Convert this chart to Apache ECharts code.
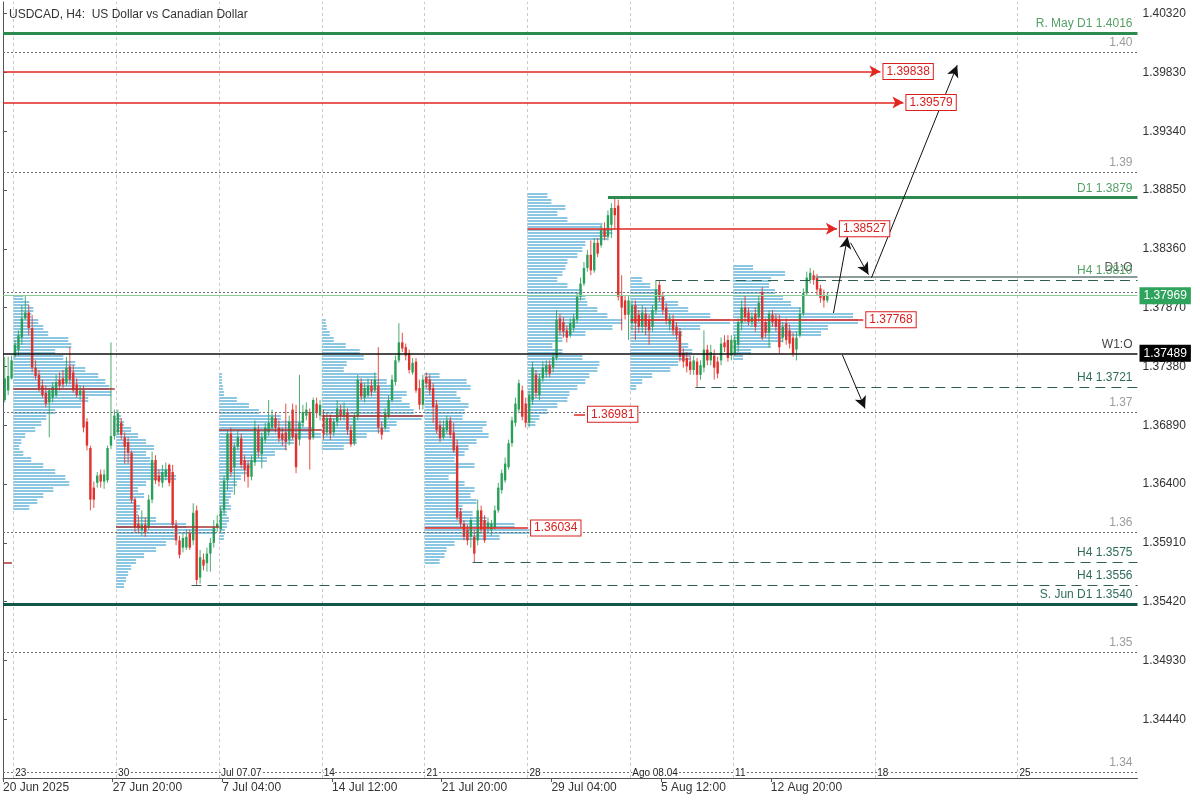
<!DOCTYPE html>
<html><head><meta charset="utf-8">
<script src="https://cdn.jsdelivr.net/npm/echarts@6/dist/echarts.min.js"></script>
<style>html,body{margin:0;padding:0;background:#fff}#c{width:1200px;height:800px}</style>
</head><body><div id="c"></div>
<script>
// ---------- DATA ----------
// H4 candles [open, close, low, high]
const wkJun20 = [
[1.3710,1.3728,1.3708,1.3746],[1.3718,1.3730,1.3714,1.3746],[1.3728,1.3743,1.3727,1.3747]];
const wkJun23 = [
[1.3747,1.3756,1.3745,1.3760],[1.3752,1.3764,1.3747,1.3768],[1.3762,1.3778,1.3756,1.3789],[1.3778,1.3783,1.3777,1.3797],
[1.3783,1.3770,1.3764,1.3789],[1.3770,1.3737,1.3733,1.3781],[1.3737,1.3730,1.3727,1.3743],[1.3731,1.3720,1.3717,1.3735],
[1.3722,1.3714,1.3712,1.3727],[1.3716,1.3707,1.3704,1.3722],[1.3708,1.3718,1.3679,1.3720],[1.3712,1.3721,1.3708,1.3725],
[1.3714,1.3725,1.3712,1.3731],[1.3727,1.3722,1.3718,1.3733],[1.3728,1.3723,1.3720,1.3735],[1.3724,1.3737,1.3722,1.3746],
[1.3738,1.3727,1.3723,1.3754],[1.3733,1.3718,1.3716,1.3739],[1.3723,1.3714,1.3712,1.3728],[1.3714,1.3718,1.3710,1.3722],
[1.3718,1.3687,1.3683,1.3722],[1.3692,1.3672,1.3668,1.3695],[1.3670,1.3627,1.3618,1.3672],[1.3637,1.3627,1.3620,1.3642],
[1.3641,1.3647,1.3637,1.3650],[1.3648,1.3642,1.3637,1.3652],[1.3642,1.3648,1.3636,1.3652],[1.3643,1.3670,1.3641,1.3672],
[1.3672,1.3680,1.3669,1.3758],[1.3680,1.3697,1.3677,1.3702]];
const wkJun30 = [
[1.3683,1.3699,1.3681,1.3702],[1.3691,1.3681,1.3677,1.3695],[1.3679,1.3671,1.3657,1.3683],[1.3675,1.3666,1.3657,1.3679],
[1.3666,1.3627,1.3624,1.3668],[1.3627,1.3604,1.3600,1.3629],[1.3607,1.3603,1.3599,1.3614],[1.3602,1.3606,1.3597,1.3618],
[1.3606,1.3600,1.3596,1.3612],[1.3604,1.3627,1.3602,1.3631],[1.3627,1.3660,1.3624,1.3667],[1.3660,1.3643,1.3640,1.3664],
[1.3647,1.3642,1.3638,1.3652],[1.3641,1.3650,1.3637,1.3656],[1.3646,1.3652,1.3643,1.3658],[1.3656,1.3641,1.3638,1.3657],
[1.3650,1.3606,1.3603,1.3656],[1.3606,1.3593,1.3589,1.3610],[1.3593,1.3581,1.3578,1.3597],[1.3587,1.3595,1.3583,1.3599],
[1.3587,1.3596,1.3585,1.3602],[1.3599,1.3587,1.3585,1.3602],[1.3593,1.3616,1.3589,1.3624],[1.3618,1.3560,1.3556,1.3622],
[1.3562,1.3579,1.3557,1.3585],[1.3577,1.3572,1.3568,1.3582],[1.3574,1.3582,1.3567,1.3587],[1.3582,1.3591,1.3567,1.3595],
[1.3591,1.3604,1.3587,1.3610],[1.3604,1.3607,1.3600,1.3614]];
const wkJul07 = [
[1.3602,1.3618,1.3600,1.3622],[1.3618,1.3643,1.3614,1.3647],[1.3643,1.3682,1.3635,1.3685],[1.3682,1.3650,1.3646,1.3687],
[1.3654,1.3671,1.3631,1.3674],[1.3671,1.3679,1.3668,1.3685],[1.3678,1.3656,1.3653,1.3682],[1.3660,1.3652,1.3642,1.3664],
[1.3656,1.3646,1.3637,1.3660],[1.3646,1.3660,1.3643,1.3664],[1.3658,1.3687,1.3655,1.3693],[1.3685,1.3667,1.3662,1.3689],
[1.3665,1.3679,1.3653,1.3683],[1.3677,1.3687,1.3674,1.3691],[1.3683,1.3691,1.3680,1.3710],[1.3687,1.3696,1.3685,1.3702],
[1.3695,1.3687,1.3683,1.3699],[1.3687,1.3678,1.3675,1.3693],[1.3682,1.3677,1.3672,1.3687],[1.3683,1.3675,1.3668,1.3707],
[1.3677,1.3692,1.3672,1.3697],[1.3702,1.3679,1.3677,1.3707],[1.3682,1.3654,1.3649,1.3706],[1.3677,1.3691,1.3672,1.3731],
[1.3691,1.3700,1.3687,1.3706],[1.3697,1.3702,1.3693,1.3708],[1.3700,1.3677,1.3652,1.3703],[1.3679,1.3710,1.3677,1.3712],
[1.3707,1.3699,1.3695,1.3712],[1.3697,1.3706,1.3693,1.3710]];
const wkJul14 = [
[1.3697,1.3681,1.3677,1.3702],[1.3683,1.3695,1.3680,1.3700],[1.3695,1.3682,1.3677,1.3698],[1.3683,1.3692,1.3680,1.3695],
[1.3692,1.3703,1.3688,1.3710],[1.3702,1.3697,1.3693,1.3706],[1.3696,1.3702,1.3693,1.3708],[1.3700,1.3685,1.3681,1.3703],
[1.3685,1.3673,1.3671,1.3689],[1.3674,1.3696,1.3672,1.3700],[1.3696,1.3727,1.3693,1.3731],[1.3724,1.3713,1.3710,1.3728],
[1.3712,1.3720,1.3708,1.3724],[1.3714,1.3722,1.3712,1.3728],[1.3722,1.3717,1.3713,1.3727],[1.3718,1.3727,1.3716,1.3733],
[1.3722,1.3687,1.3682,1.3754],[1.3687,1.3681,1.3677,1.3692],[1.3687,1.3699,1.3685,1.3703],[1.3697,1.3710,1.3695,1.3714],
[1.3710,1.3727,1.3708,1.3731],[1.3725,1.3743,1.3722,1.3747],[1.3743,1.3758,1.3741,1.3774],[1.3758,1.3753,1.3750,1.3766],
[1.3754,1.3747,1.3743,1.3757],[1.3749,1.3735,1.3732,1.3752],[1.3733,1.3741,1.3731,1.3745],[1.3742,1.3718,1.3716,1.3745],
[1.3720,1.3706,1.3702,1.3727],[1.3706,1.3727,1.3702,1.3731]];
const wkJul21 = [
[1.3729,1.3724,1.3720,1.3733],[1.3727,1.3718,1.3714,1.3731],[1.3720,1.3704,1.3691,1.3724],[1.3706,1.3685,1.3682,1.3710],
[1.3689,1.3678,1.3675,1.3693],[1.3679,1.3687,1.3677,1.3693],[1.3685,1.3693,1.3682,1.3697],[1.3693,1.3681,1.3678,1.3696],
[1.3683,1.3668,1.3666,1.3691],[1.3672,1.3612,1.3610,1.3677],[1.3617,1.3607,1.3604,1.3620],[1.3607,1.3596,1.3593,1.3610],
[1.3602,1.3593,1.3589,1.3606],[1.3596,1.3610,1.3587,1.3612],[1.3596,1.3582,1.3575,1.3602],[1.3593,1.3618,1.3589,1.3627],
[1.3618,1.3602,1.3599,1.3622],[1.3610,1.3593,1.3591,1.3614],[1.3603,1.3608,1.3599,1.3612],[1.3602,1.3607,1.3597,1.3610],
[1.3604,1.3618,1.3602,1.3622],[1.3618,1.3637,1.3616,1.3641],[1.3635,1.3649,1.3632,1.3652],[1.3643,1.3657,1.3641,1.3662],
[1.3654,1.3674,1.3652,1.3677],[1.3674,1.3693,1.3671,1.3696],[1.3691,1.3707,1.3688,1.3712],[1.3702,1.3724,1.3699,1.3727],
[1.3718,1.3696,1.3693,1.3722],[1.3707,1.3691,1.3687,1.3712]];
const wkJul28 = [
[1.3691,1.3714,1.3687,1.3718],[1.3710,1.3737,1.3706,1.3742],[1.3731,1.3716,1.3712,1.3735],[1.3714,1.3728,1.3710,1.3732],
[1.3728,1.3737,1.3725,1.3742],[1.3733,1.3739,1.3729,1.3743],[1.3739,1.3732,1.3729,1.3743],[1.3737,1.3746,1.3733,1.3749],
[1.3745,1.3777,1.3743,1.3785],[1.3778,1.3768,1.3764,1.3782],[1.3775,1.3767,1.3762,1.3779],[1.3768,1.3762,1.3758,1.3772],
[1.3764,1.3774,1.3762,1.3778],[1.3770,1.3778,1.3767,1.3782],[1.3777,1.3796,1.3774,1.3799],[1.3796,1.3807,1.3793,1.3812],
[1.3807,1.3820,1.3805,1.3825],[1.3820,1.3831,1.3817,1.3835],[1.3831,1.3818,1.3814,1.3843],[1.3818,1.3841,1.3816,1.3845],
[1.3841,1.3832,1.3829,1.3845],[1.3839,1.3852,1.3837,1.3856],[1.3853,1.3846,1.3843,1.3858],[1.3846,1.3864,1.3843,1.3868],
[1.3856,1.3870,1.3845,1.3874],[1.3870,1.3864,1.3852,1.3879],[1.3872,1.3796,1.3793,1.3877],[1.3797,1.3787,1.3768,1.3814],
[1.3793,1.3781,1.3777,1.3797],[1.3781,1.3793,1.3760,1.3797]];
const wkAug04 = [
[1.3774,1.3789,1.3768,1.3793],[1.3789,1.3774,1.3760,1.3793],[1.3781,1.3771,1.3766,1.3785],[1.3771,1.3783,1.3766,1.3789],
[1.3782,1.3771,1.3764,1.3787],[1.3777,1.3768,1.3756,1.3781],[1.3771,1.3785,1.3767,1.3789],[1.3785,1.3802,1.3781,1.3810],
[1.3806,1.3796,1.3792,1.3810],[1.3796,1.3785,1.3781,1.3800],[1.3787,1.3777,1.3773,1.3791],[1.3773,1.3778,1.3768,1.3782],
[1.3777,1.3768,1.3764,1.3781],[1.3771,1.3764,1.3760,1.3775],[1.3767,1.3746,1.3742,1.3770],[1.3749,1.3742,1.3737,1.3753],
[1.3745,1.3738,1.3733,1.3750],[1.3742,1.3735,1.3731,1.3747],[1.3735,1.3743,1.3731,1.3747],[1.3742,1.3731,1.3721,1.3745],
[1.3731,1.3739,1.3727,1.3743],[1.3737,1.3752,1.3733,1.3768],[1.3752,1.3743,1.3739,1.3756],[1.3743,1.3750,1.3739,1.3756],
[1.3747,1.3737,1.3727,1.3752],[1.3742,1.3732,1.3728,1.3746],[1.3743,1.3757,1.3739,1.3762],[1.3758,1.3754,1.3750,1.3764],
[1.3760,1.3745,1.3742,1.3764],[1.3747,1.3760,1.3743,1.3764]];
const wkAug11 = [
[1.3749,1.3760,1.3747,1.3764],[1.3756,1.3775,1.3750,1.3778],[1.3774,1.3787,1.3768,1.3793],[1.3787,1.3779,1.3775,1.3797],
[1.3783,1.3775,1.3772,1.3787],[1.3775,1.3779,1.3771,1.3783],[1.3782,1.3771,1.3767,1.3787],[1.3779,1.3791,1.3775,1.3797],
[1.3800,1.3762,1.3760,1.3804],[1.3775,1.3766,1.3762,1.3778],[1.3766,1.3782,1.3754,1.3785],[1.3781,1.3775,1.3771,1.3785],
[1.3778,1.3771,1.3767,1.3782],[1.3777,1.3754,1.3749,1.3781],[1.3762,1.3771,1.3758,1.3775],[1.3774,1.3760,1.3756,1.3778],
[1.3768,1.3757,1.3753,1.3773],[1.3762,1.3749,1.3746,1.3766],[1.3752,1.3762,1.3743,1.3767],[1.3764,1.3782,1.3762,1.3787],
[1.3782,1.3799,1.3780,1.3803],[1.3799,1.3812,1.3797,1.3817],[1.3810,1.3816,1.3807,1.3820],[1.3814,1.3810,1.3806,1.3818],
[1.3812,1.3802,1.3797,1.3815],[1.3803,1.3795,1.3791,1.3806],[1.3797,1.3793,1.3787,1.3802],[1.3793,1.37969,1.3791,1.3800]];

// weekly volume profiles: first bar of the week, top price row, row volumes (0.0005 rows, top → bottom)
const profileStarts = [3, 33, 63, 93, 123, 153, 183, 213];
const profileTops   = [1.3795, 1.3695, 1.3730, 1.3775, 1.3730, 1.3880, 1.3810, 1.3820];
const prof0 = [10,16,20,18,25,30,35,55,58,42,50,62,72,85,92,96,98,75,68,42,33,28,22,12,8,6,10,18,30,42,52,56,40,30,24,16];
const prof1 = [5,8,15,22,30,38,30,34,40,55,60,30,22,28,20,24,22,40,70,100,60,50,40,28,20,15,12,10,8];
const prof2 = [3,3,4,5,18,30,40,62,85,95,102,75,68,56,48,32,28,22,18,14,12,10,12,8,10,8,6,5];
const prof3 = [4,5,8,12,24,38,42,25,22,55,65,72,85,80,88,92,100,75,68,45,35,22];
const prof4 = [15,42,46,32,36,44,40,38,62,58,64,52,44,40,30,50,32,24,40,50,46,52,38,48,62,90,105,75,30,22,20,15];
const prof5 = [20,24,38,30,40,75,85,80,58,55,50,40,38,35,30,40,55,58,60,70,80,95,85,58,35,25,35,55,72,70,62,58,50,42,40,30,20,12,8];
const prof6 = [12,20,28,35,48,58,80,100,70,52,50,58,62,60,48,40,22,12,6];
const prof7 = [20,52,38,36,42,50,58,68,120,125,95,88,50,38,18,10];

// axis ticks / labels
const yTickValues = [1.34440,1.34930,1.35420,1.35910,1.36400,1.36890,1.37380,1.37870,1.38360,1.38850,1.39340,1.39830,1.40320];
const xTickBars   = [0, 32, 64, 96, 128, 160, 192, 224];
const xTickLabels = ['20 Jun 2025','27 Jun 20:00','7 Jul 04:00','14 Jul 12:00','21 Jul 20:00','29 Jul 04:00','5 Aug 12:00','12 Aug 20:00'];
const weekBars    = [3, 33, 63, 93, 123, 153, 183, 213, 254.5, 296];
const weekLabels  = ['23','30','Jul 07.07','14','21','28','Ago 08.04','11','18','25'];
const roundLevels = [1.34, 1.35, 1.36, 1.37, 1.38, 1.39, 1.40];

// levels
const pocLevels   = [[3,32.6,1.3719],[33,63,1.3604],[63,93,1.3685],[93,122.6,1.3697],[0,2.6,1.3574]];
const redLevels   = [ // [fromBar, toBar, price, arrow]
  [0,256.0,1.39838,true],[0,262.7,1.39579,true],[153,243.3,1.38527,true],
  [183,251.0,1.37768,false],[166.6,169.8,1.36981,false],[123,153.2,1.36034,false]];
const arrows = [ // [fromBar, fromPrice, toBar, toPrice]
  [242.3,1.37825,246.4,1.3846],[247.3,1.3841,252.5,1.38145],[253.4,1.3812,278.4,1.3989],[244.9,1.37475,251.5,1.3703]];
const bidPrice = 1.37969, weekOpen = 1.37489;

// ---------- CHART ----------
const FONT = '"Liberation Sans", Arial, sans-serif';
const GREEN = '#2a9f58', RED = '#e2302c', PROF = '#8bc7e2';

const candles = [];
[wkJun20,wkJun23,wkJun30,wkJul07,wkJul14,wkJul21,wkJul28,wkAug04,wkAug11].forEach(w => w.forEach(b => candles.push([candles.length, b[0], b[1], b[2], b[3]])));

const profRows = [];
[prof0,prof1,prof2,prof3,prof4,prof5,prof6,prof7].forEach((vols, k) => {
  vols.forEach((v, j) => profRows.push([profileStarts[k], +(profileTops[k] - j * 0.0005).toFixed(4), v]));
});

function lblTop(text, color) {
  return {show:true, position:'insideEndTop', formatter:text, color:color, fontSize:12, fontFamily:FONT, distance:[5,3]};
}
function lblBox(text, color, bg, border) {
  return {show:true, position:'end', formatter:text, color:color, fontSize:12, fontFamily:FONT,
          backgroundColor:bg, borderColor:border || bg, borderWidth:1, padding:[2,3,1,3], distance:3};
}
function seg(x1, x2, p, lineStyle, label, arrow, size) {
  return [{coord:[x1, p], lineStyle:lineStyle, label:label || {show:false}, symbol:'none'},
          {coord:[x2, p], symbol: arrow ? 'arrow' : 'none', symbolSize: size || [9, 11]}];
}
const XMAX = 331;
const DASH = {color:'#2f5f50', width:1, type:[10,6]};
const TEAL = '#2f6b5c', LGREEN = '#55a066';

const gridLines = [];
weekBars.forEach(b => gridLines.push({xAxis:b, lineStyle:{color:'#c9c9c9', width:1, type:[3,3]}}));
gridLines.push({xAxis:0, lineStyle:{color:'#555', width:1, type:'solid'}});
roundLevels.forEach(v => gridLines.push({yAxis:v, lineStyle:{color:'#6f6f6f', width:1, type:[2,2]},
   label: v === 1.38 ? {show:false} : lblTop(v.toFixed(2), '#9c9c9c')}));

const levelLines = [
  {yAxis:1.4016, lineStyle:{color:'#2e8b4f', width:3, type:'solid'}, label:lblTop('R. May D1 1.4016', LGREEN)},
  {yAxis:1.3540, lineStyle:{color:'#11574a', width:3, type:'solid'}, label:lblTop('S. Jun D1 1.3540', TEAL)},
  {yAxis:bidPrice, lineStyle:{color:'#8ccc9a', width:1, type:'solid'}, label:lblBox('1.37969', '#fff', '#2ea35c')},
  {yAxis:weekOpen, lineStyle:{color:'#111', width:1.5, type:'solid'}, label:lblTop('W1:O', '#444')},
  {yAxis:weekOpen, lineStyle:{color:'rgba(0,0,0,0)', width:1, type:'solid'}, label:lblBox('1.37489', '#fff', '#000')},
  seg(176.5, XMAX, 1.3879, {color:'#2e8b4f', width:3, type:'solid'}, lblTop('D1 1.3879', LGREEN)),
  seg(237, XMAX, 1.3813, {color:'#8d9c9a', width:2, type:'solid'}, lblTop('D1:O', '#555')),
  seg(190.5, XMAX, 1.3810, DASH, lblTop('H4 1.3810', LGREEN)),
  seg(202, XMAX, 1.3721, DASH, lblTop('H4 1.3721', TEAL)),
  seg(137, XMAX, 1.3575, DASH, lblTop('H4 1.3575', TEAL)),
  seg(55, XMAX, 1.3556, DASH, lblTop('H4 1.3556', TEAL))
];
pocLevels.forEach(p => levelLines.push(seg(p[0], p[1], p[2], {color:'#a83232', width:1.5, type:'solid'})));
redLevels.forEach(r => levelLines.push(seg(r[0], r[1], r[2], {color:'#e3261f', width:1.5, type:'solid'},
   lblBox(r[2].toFixed(5), '#d92020', '#fff', '#d92020'), r[3])));
arrows.forEach(a => levelLines.push([
  {coord:[a[0], a[1]], lineStyle:{color:'#111', width:1, type:'solid'}, label:{show:false}, symbol:'none'},
  {coord:[a[2], a[3]], symbol:'arrow', symbolSize:[9,12]}]));

const chart = echarts.init(document.getElementById('c'));
chart.setOption({
  animation:false,
  backgroundColor:'#fff',
  textStyle:{fontFamily:FONT},
  title:{text:'USDCAD, H4:  US Dollar vs Canadian Dollar', left:4, top:4,
         textStyle:{fontSize:12, fontWeight:'normal', color:'#333', fontFamily:FONT}},
  grid:{left:1, right:62.5, top:2, bottom:22},
  xAxis:{type:'value', min:0, max:XMAX, splitLine:{show:false},
    axisLine:{show:true, lineStyle:{color:'#555'}},
    axisTick:{show:true, customValues:xTickBars, length:4, lineStyle:{color:'#555'}},
    axisLabel:{show:true, customValues:xTickBars, align:'left', margin:4, color:'#333', fontSize:12, fontFamily:FONT,
      formatter:v => xTickLabels[xTickBars.indexOf(v)] || ''}},
  yAxis:{type:'value', position:'right', min:1.3395, max:1.404167, splitLine:{show:false},
    axisLine:{show:true, lineStyle:{color:'#555'}},
    axisTick:{show:true, customValues:yTickValues, length:4, lineStyle:{color:'#555'}},
    axisLabel:{show:true, customValues:yTickValues, margin:5, color:'#333', fontSize:12, fontFamily:FONT,
      formatter:v => v.toFixed(5)}},
  series:[
    {type:'custom', name:'profiles', z:1, silent:true, data:profRows,
     renderItem(params, api) {
       const s = api.value(0), p = api.value(1), v = api.value(2);
       const a = api.coord([s, p]);
       const w = v; // one volume unit = one pixel of length
       const yc = Math.round(a[1]);
       return {type:'group', children:[
         {type:'rect', shape:{x:a[0], y:yc-3, width:w, height:2}, style:{fill:PROF}},
         {type:'rect', shape:{x:a[0], y:yc, width:w, height:2}, style:{fill:PROF}}]};
     }},
    {type:'line', name:'grid', z:2, data:[[0,1.37]], showSymbol:false, lineStyle:{opacity:0}, clip:false, silent:true,
     markLine:{silent:true, animation:false, precision:6, symbol:['none','none'], label:{show:false}, data:gridLines}},
    {type:'custom', name:'candles', z:4, silent:true, data:candles,
     renderItem(params, api) {
       const i = api.value(0), o = api.value(1), c = api.value(2), l = api.value(3), h = api.value(4);
       const pO = api.coord([i + 0.5, o]), pC = api.coord([i + 0.5, c]);
       const pL = api.coord([i + 0.5, l]), pH = api.coord([i + 0.5, h]);
       const col = c >= o ? GREEN : RED;
       const x = pO[0];
       return {type:'group', children:[
         {type:'line', shape:{x1:x, y1:pH[1], x2:x, y2:pL[1]}, style:{stroke:col, lineWidth:1, opacity:0.85}},
         {type:'rect', shape:{x:x-1.2, y:Math.min(pO[1], pC[1]), width:2.4, height:Math.max(1, Math.abs(pO[1]-pC[1]))}, style:{fill:col}}]};
     }},
    {type:'custom', name:'weekLabels', z:6, silent:true, data:weekBars.map(b => [b, 1.34]),
     renderItem(params, api) {
       const p = api.coord([api.value(0), api.value(1)]);
       return {type:'text', x:p[0] + 2, y:p[1] + 1,
         style:{text:weekLabels[params.dataIndex], fill:'#222', font:'10px ' + FONT, align:'left', verticalAlign:'middle',
                backgroundColor:'#fff'}};
     }},
    {type:'line', name:'levels', z:5, data:[[0,1.37]], showSymbol:false, lineStyle:{opacity:0}, clip:false, silent:true,
     markLine:{silent:true, animation:false, precision:6, symbol:['none','none'], label:{show:false}, data:levelLines}}
  ]
});
</script></body></html>
